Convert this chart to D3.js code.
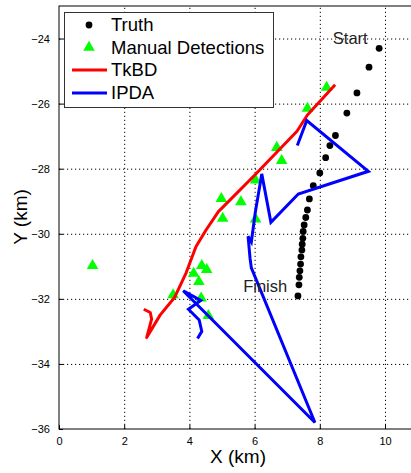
<!DOCTYPE html>
<html>
<head>
  <meta charset="utf-8">
  <title>TkBD vs IPDA tracks</title>
  <script src="https://d3js.org/d3.v7.min.js"></script>
  <style>
    body { margin: 0; background: #fff; font-family: "Liberation Sans", Arial, sans-serif; }
    .axis path { display: none; }
    .axis line { stroke: #000; }
    .axis text { font-size: 11px; fill: #000; font-family: "Liberation Sans", Arial, sans-serif; }
    .grid line { stroke: #000; stroke-dasharray: 1.2,2.8; stroke-width: 1; }
    .grid path { display: none; }
  </style>
</head>
<body>
  <svg width="411" height="473"></svg>
  <script>
    // ground truth positions (km)
    const truthX = [9.82, 9.51, 9.14, 8.83, 8.48, 8.31, 8.18, 8.00, 7.80, 7.68, 7.62, 7.57, 7.52, 7.49, 7.48, 7.46, 7.45, 7.42, 7.41, 7.39, 7.37, 7.36, 7.33];
    const truthY = [-24.30, -24.88, -25.67, -26.29, -26.98, -27.29, -27.66, -28.13, -28.52, -28.93, -29.27, -29.50, -29.73, -29.93, -30.14, -30.32, -30.50, -30.71, -30.93, -31.14, -31.34, -31.57, -31.91];

    // manual detections
    const detX = [8.21, 7.62, 6.68, 6.83, 6.03, 4.98, 5.58, 5.02, 6.03, 1.03, 4.38, 4.53, 4.13, 4.29, 3.50, 4.36, 4.58];
    const detY = [-25.50, -26.15, -27.35, -27.75, -28.35, -28.92, -29.02, -29.53, -29.55, -30.98, -30.98, -31.10, -31.22, -31.47, -31.88, -31.98, -32.52];

    // TkBD track
    const tkbdX = [8.47, 7.62, 7.30, 6.00, 4.89, 4.50, 4.20, 3.90, 3.55, 3.10, 2.69, 2.84, 2.80, 2.60];
    const tkbdY = [-25.42, -26.35, -26.85, -28.20, -29.32, -29.90, -30.40, -31.20, -31.95, -32.50, -33.19, -32.62, -32.42, -32.32];

    // IPDA track
    const ipdaX = [7.31, 7.60, 9.49, 7.34, 6.50, 6.22, 6.02, 5.90, 5.80, 5.86, 5.90, 7.85, 3.81, 4.35, 3.97, 4.30, 4.38, 4.25];
    const ipdaY = [-27.29, -26.52, -28.08, -28.78, -29.65, -28.16, -29.35, -30.25, -30.08, -30.75, -31.05, -35.80, -31.75, -32.05, -32.32, -32.65, -33.00, -33.22];

    const xTicks = [0, 2, 4, 6, 8, 10];
    const yTicks = [-24, -26, -28, -30, -32, -34, -36];

    const labels = [
      { text: "Start", x: 8.4, y: -24.0 },
      { text: "Finish", x: 5.65, y: -31.6 }
    ];

    const legendItems = [
      { name: "Truth", kind: "dot", color: "#000" },
      { name: "Manual Detections", kind: "tri", color: "#00ff00" },
      { name: "TkBD", kind: "line", color: "#ff0000" },
      { name: "IPDA", kind: "line", color: "#0000ff" }
    ];

    const zip = (xs, ys) => xs.map((v, i) => [v, ys[i]]);

    const svg = d3.select("svg");
    const x = d3.scaleLinear().domain([0, 11]).range([59, 417.6]);
    const y = d3.scaleLinear().domain([-36, -23]).range([429, 6]);

    const plot = svg.append("g");

    // dotted grid
    plot.append("g")
      .attr("class", "grid")
      .attr("transform", "translate(0,429)")
      .call(d3.axisBottom(x).tickValues(xTicks.slice(1)).tickSize(-423).tickFormat(""));
    plot.append("g")
      .attr("class", "grid")
      .attr("transform", "translate(59,0)")
      .call(d3.axisLeft(y).tickValues(yTicks.slice(0, -1)).tickSize(-360).tickFormat(""));

    // axes with inward ticks
    plot.append("g")
      .attr("class", "axis")
      .attr("transform", "translate(0,429)")
      .call(d3.axisBottom(x).tickValues(xTicks).tickSizeInner(-4).tickSizeOuter(0).tickPadding(8).tickFormat(d3.format("d")));
    plot.append("g")
      .attr("class", "axis")
      .attr("transform", "translate(59,0)")
      .call(d3.axisLeft(y).tickValues(yTicks).tickSizeInner(-4).tickSizeOuter(0).tickPadding(9).tickFormat(d3.format("d")));

    // box
    plot.append("rect")
      .attr("x", x(0)).attr("y", y(-23))
      .attr("width", x(11) - x(0)).attr("height", y(-36) - y(-23))
      .attr("fill", "none").attr("stroke", "#000").attr("stroke-width", 1);

    const line = d3.line().x(d => x(d[0])).y(d => y(d[1]));

    // truth dots
    plot.append("g").selectAll("circle")
      .data(zip(truthX, truthY))
      .join("circle")
      .attr("cx", d => x(d[0])).attr("cy", d => y(d[1]))
      .attr("r", 3.4).attr("fill", "#000");

    // detections
    const tri = d3.symbol().type(d3.symbolTriangle).size(58);
    plot.append("g").selectAll("path")
      .data(zip(detX, detY))
      .join("path")
      .attr("d", tri)
      .attr("transform", d => `translate(${x(d[0])},${y(d[1])})`)
      .attr("fill", "#00ff00");

    plot.append("path")
      .datum(zip(tkbdX, tkbdY))
      .attr("d", line)
      .attr("fill", "none").attr("stroke", "#ff0000").attr("stroke-width", 3)
      .attr("stroke-linejoin", "round");

    plot.append("path")
      .datum(zip(ipdaX, ipdaY))
      .attr("d", line)
      .attr("fill", "none").attr("stroke", "#0000ff").attr("stroke-width", 3)
      .attr("stroke-linejoin", "miter");

    // annotations
    plot.selectAll("text.note")
      .data(labels)
      .join("text")
      .attr("class", "note")
      .attr("x", d => x(d.x)).attr("y", d => y(d.y))
      .attr("dy", "0.35em")
      .attr("font-size", 16.5)
      .attr("fill", "#222")
      .text(d => d.text);

    // axis titles
    svg.append("text")
      .attr("x", 238).attr("y", 463)
      .attr("text-anchor", "middle")
      .attr("font-size", 19)
      .text("X (km)");
    svg.append("text")
      .attr("transform", "translate(27,217) rotate(-90)")
      .attr("text-anchor", "middle")
      .attr("font-size", 19)
      .text("Y (km)");

    // legend
    const lg = svg.append("g");
    lg.append("rect")
      .attr("x", 64.5).attr("y", 12.5).attr("width", 209).attr("height", 95)
      .attr("fill", "#fff").attr("stroke", "#333").attr("stroke-width", 1);
    const rowY = [25, 47.5, 70, 93];
    legendItems.forEach((d, i) => {
      const cy = rowY[i];
      if (d.kind === "dot") {
        lg.append("circle").attr("cx", 89).attr("cy", cy).attr("r", 3.4).attr("fill", d.color);
      } else if (d.kind === "tri") {
        lg.append("path").attr("d", tri).attr("transform", `translate(89,${cy})`).attr("fill", d.color);
      } else {
        lg.append("line").attr("x1", 72).attr("x2", 107).attr("y1", cy).attr("y2", cy)
          .attr("stroke", d.color).attr("stroke-width", 3);
      }
      lg.append("text")
        .attr("x", 111).attr("y", cy).attr("dy", "0.35em")
        .attr("font-size", 18.5)
        .text(d.name);
    });
  </script>
</body>
</html>
